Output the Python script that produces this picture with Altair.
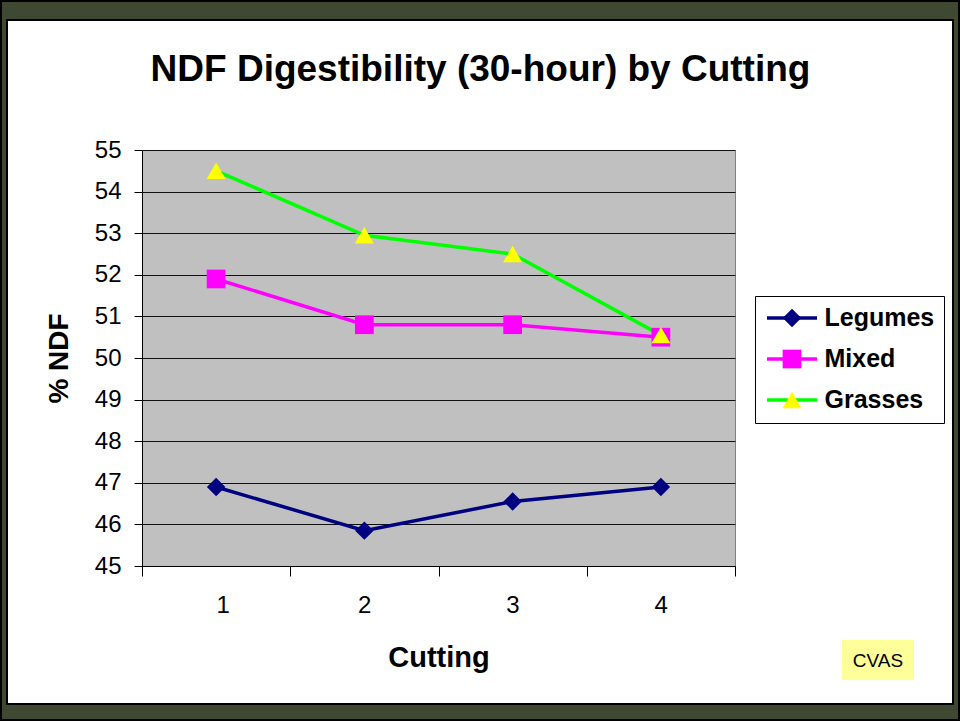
import altair as alt
import pandas as pd

# ---- data ----
cuttings = [1, 2, 3, 4]
legumes = [46.9, 45.85, 46.55, 46.9]
mixed = [51.9, 50.8, 50.8, 50.5]
grasses = [54.5, 52.95, 52.5, 50.55]
series_names = ["Legumes", "Mixed", "Grasses"]
marker_keys = ["L", "M", "G"]
y_ticks = list(range(45, 56))
x_tick_edges = [0.5, 1.5, 2.5, 3.5, 4.5]

# ---- styles ----
line_colors = ["#000080", "#FF00FF", "#00FF00"]
marker_colors = ["#000080", "#FF00FF", "#FFFF00"]
marker_shapes = ["diamond", "square", "triangle-up"]
marker_sizes = [340, 360, 420]
FONT = "Liberation Sans, Arial, sans-serif"
OLIVE = "#3F4830"

rows = []
for name, key, vals in zip(series_names, marker_keys, [legumes, mixed, grasses]):
    for c, v in zip(cuttings, vals):
        rows.append({"Cutting": c, "NDF": v, "Series": name, "Marker": key})
df = pd.DataFrame(rows)

W, H = 593, 416

x_enc = alt.X(
    "Cutting:Q",
    scale=alt.Scale(domain=[0.5, 4.5], nice=False, zero=False),
    axis=alt.Axis(
        values=x_tick_edges,
        labelExpr="datum.value < 4 ? format(datum.value + 0.5, 'd') : ''",
        labelOffset=74, tickSize=10, labelPadding=17,
        labelFontSize=24, labelFont=FONT, labelColor="black",
        domainColor="black", tickColor="black", domainWidth=1, tickWidth=1,
        grid=False, title="Cutting", titleFont=FONT, titleFontSize=29,
        titleFontWeight="bold", titleColor="black", titlePadding=26,
    ),
)
y_enc = alt.Y(
    "NDF:Q",
    scale=alt.Scale(domain=[45, 55], nice=False, zero=False),
    axis=alt.Axis(
        values=y_ticks, tickSize=8, labelPadding=13,
        labelFontSize=24, labelFont=FONT, labelColor="black",
        domainColor="black", tickColor="black", domainWidth=1, tickWidth=1,
        grid=True, gridColor="#111111", gridWidth=1,
        title="% NDF", titleFont=FONT, titleFontSize=28,
        titleFontWeight="bold", titleColor="black", titlePadding=21,
    ),
)

legend_common = dict(
    orient="none", title=None, labelFont=FONT, labelFontSize=25,
    labelFontWeight="bold", labelColor="black", padding=9.5, rowPadding=15,
    legendY=146,
)

lines = alt.Chart(df).mark_line(strokeWidth=3.5).encode(
    x=x_enc, y=y_enc,
    color=alt.Color(
        "Series:N",
        scale=alt.Scale(domain=series_names, range=line_colors),
        legend=alt.Legend(
            symbolType="M-1,0H4", symbolSize=400, symbolStrokeWidth=3.5,
            fillColor="white", strokeColor="black", labelOffset=35,
            legendX=613, zindex=0, **legend_common,
        ),
    ),
)

mk_legend = alt.Legend(labelExpr="''", legendX=628, zindex=1, **legend_common)
points = alt.Chart(df).mark_point(filled=True, opacity=1, strokeWidth=0).encode(
    x=x_enc, y=y_enc,
    fill=alt.Fill("Marker:N", scale=alt.Scale(domain=marker_keys, range=marker_colors), legend=mk_legend),
    shape=alt.Shape("Marker:N", scale=alt.Scale(domain=marker_keys, range=marker_shapes), legend=mk_legend),
    size=alt.Size("Marker:N", scale=alt.Scale(domain=marker_keys, range=marker_sizes), legend=mk_legend),
)

# ---- slide frame decoration (outside the plot area) ----
one = pd.DataFrame({"k": [0]})
def strip(x1, x2, y1, y2, **kw):
    return alt.Chart(one).mark_rect(**kw).encode(
        x=alt.value(x1), x2=alt.value(x2), y=alt.value(y1), y2=alt.value(y2)
    )

frame = [
    strip(-142, 818, -150, -130, color=OLIVE),
    strip(-142, 818, 554, 571, color=OLIVE),
    strip(-142, -135, -150, 571, color=OLIVE),
    strip(811, 818, -150, 571, color=OLIVE),
    strip(-135, 811, -130, 554, fill=None, filled=False, stroke="black", strokeWidth=2),
    strip(-141, 817, -149, 570, fill=None, filled=False, stroke="black", strokeWidth=2),
    strip(700, 772, 490, 530, color="#FFFF99"),
]
cvas = alt.Chart(one).mark_text(
    text="CVAS", font=FONT, fontSize=19, color="black", align="center", baseline="middle"
).encode(x=alt.value(736), y=alt.value(511))

chart = alt.layer(*frame, cvas, lines, points).properties(
    width=W, height=H,
    title=alt.TitleParams(
        "NDF Digestibility (30-hour) by Cutting", font=FONT, fontSize=37,
        fontWeight="bold", color="black", anchor="middle", offset=-89, dx=42,
    ),
    autosize=alt.AutoSizeParams(type="none"),
    padding={"left": 142, "top": 150, "right": 225, "bottom": 155},
    background="white",
).configure_view(fill="#C0C0C0", stroke="#808080", strokeWidth=1)

chart.save("out.html", embed_options={"renderer": "svg", "actions": False})
